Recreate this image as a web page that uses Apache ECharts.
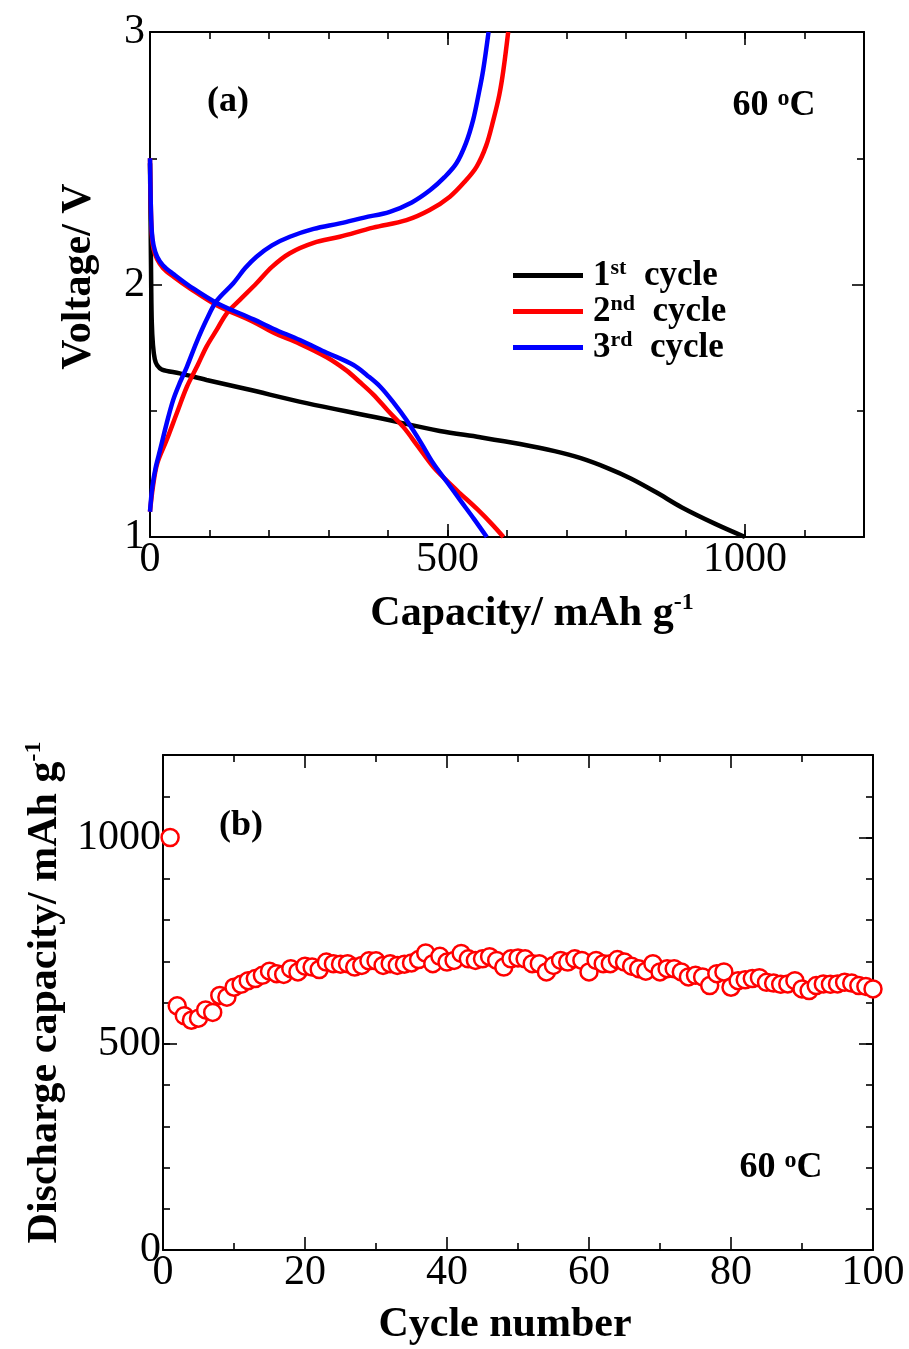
<!DOCTYPE html>
<html>
<head>
<meta charset="utf-8">
<script src="https://cdn.jsdelivr.net/npm/echarts@6/dist/echarts.min.js"></script>
<style>
  html, body { margin: 0; padding: 0; background: #fff; }
  #chart { width: 909px; height: 1349px; }
</style>
</head>
<body>
<div id="chart"></div>
<script>
const FONT = '"Liberation Serif", "Times New Roman", "DejaVu Serif", serif';

// (a) Charge/discharge profiles at 60 °C: [capacity mAh/g, voltage V]
const cycle1Discharge = [[0,2.48],[1,2.25],[2,2.0],[3,1.85],[5,1.76],[8,1.705],[12,1.68],[20,1.663],[50,1.648],[95,1.622],[162,1.586],[263,1.53],[375,1.476],[487,1.42],[555,1.395],[622,1.368],[680,1.34],[724,1.312],[770,1.272],[808,1.232],[850,1.178],[894,1.117],[950,1.052],[1000,1.0]];
const cycle2Discharge = [[0,2.5],[1,2.35],[3,2.2],[6,2.14],[12,2.1],[22,2.065],[40,2.03],[67,1.985],[112,1.918],[174,1.852],[207,1.81],[252,1.765],[297,1.712],[330,1.66],[352,1.615],[375,1.565],[400,1.5],[426,1.435],[450,1.36],[476,1.278],[500,1.22],[521,1.173],[550,1.11],[575,1.05],[594,1.0]];
const cycle2Charge = [[0,1.1],[5,1.2],[12,1.29],[28,1.384],[45,1.49],[62,1.595],[80,1.68],[95,1.754],[112,1.82],[129,1.886],[151,1.939],[179,2.005],[205,2.07],[235,2.124],[275,2.165],[319,2.189],[375,2.225],[431,2.255],[470,2.295],[504,2.348],[530,2.41],[549,2.467],[565,2.55],[577,2.651],[587,2.75],[594,2.85],[602,3.0]];
const cycle3Discharge = [[0,2.5],[1,2.35],[3,2.21],[6,2.155],[12,2.11],[22,2.075],[40,2.04],[67,1.993],[112,1.927],[174,1.862],[207,1.825],[252,1.78],[297,1.73],[342,1.681],[365,1.64],[387,1.595],[410,1.53],[431,1.463],[455,1.375],[476,1.292],[500,1.215],[521,1.147],[545,1.07],[566,1.0]];
const cycle3Charge = [[0,1.1],[4,1.2],[10,1.28],[17,1.345],[28,1.45],[39,1.543],[50,1.61],[62,1.674],[78,1.77],[95,1.86],[112,1.935],[140,2.005],[160,2.065],[179,2.11],[205,2.155],[235,2.189],[275,2.22],[319,2.242],[360,2.265],[403,2.288],[440,2.325],[471,2.374],[495,2.425],[515,2.48],[531,2.56],[543,2.651],[552,2.75],[560,2.85],[569,3.0]];

const cycleNames = ['1st', '2nd', '3rd'];
const cycleSuffix = { '1st': ['1', 'st'], '2nd': ['2', 'nd'], '3rd': ['3', 'rd'] };

// (b) Discharge capacity (mAh/g) for cycles 1..100
const dischargeCapacity = [
  1000, 592, 568, 557, 562, 582, 576, 617, 613, 637,
  644, 653, 658, 666, 676, 670, 668, 682, 674, 688,
  686, 680, 698, 694, 693, 694, 686, 690, 701, 701,
  690, 694, 690, 693, 696, 704, 720, 694, 712, 698,
  702, 719, 706, 702, 706, 711, 702, 686, 706, 708,
  706, 694, 694, 674, 690, 702, 698, 706, 702, 674,
  702, 694, 694, 704, 698, 688, 682, 676, 694, 674,
  682, 682, 674, 662, 666, 662, 641, 670, 674, 637,
  653, 655, 658, 660, 649, 647, 644, 645, 653, 633,
  629, 641, 645, 644, 645, 649, 647, 641, 639, 633
];
const cyclePoints = dischargeCapacity.map((v, i) => [i + 1, v]);

const black = '#000000', red = '#ff0000', blue = '#0000ff';

const frameLine = { show: true, onZero: false, lineStyle: { color: '#000', width: 2 } };
const noLine = { show: false, onZero: false };
const tick = (len) => ({ show: true, inside: true, length: len, lineStyle: { color: '#000', width: 1.6 } });
const minor = (len, n) => ({ show: true, splitNumber: n, length: len, lineStyle: { color: '#000', width: 1.6 } });
const noLabel = { show: false };
const tickLabel = (margin, hideMax) => ({
  show: true, margin: margin, color: '#000', fontFamily: FONT, fontSize: 42,
  showMinLabel: true, showMaxLabel: true, hideOverlap: false,
  formatter: (v) => (v === hideMax ? '' : String(v))
});
const noSplit = { show: false };

const supRich = {
  t: { fontFamily: FONT, fontWeight: 'bold', fontSize: 42, lineHeight: 46, color: '#000' },
  s: { fontFamily: FONT, fontWeight: 'bold', fontSize: 24, lineHeight: 14, verticalAlign: 'top', color: '#000' }
};
const degreeRich = {
  n: { fontFamily: FONT, fontWeight: 'bold', fontSize: 36, lineHeight: 38, fill: '#000' },
  s: { fontFamily: FONT, fontWeight: 'bold', fontSize: 24, lineHeight: 14, verticalAlign: 'top', fill: '#000' }
};

function valueAxis(o) {
  return Object.assign({ type: 'value', splitLine: noSplit, nameMoveOverlap: false }, o);
}

const lineSeries = (name, data, color) => ({
  type: 'line', name: name, data: data, xAxisIndex: 0, yAxisIndex: 0,
  showSymbol: false, symbol: 'none', smooth: 0.35,
  color: color, lineStyle: { color: color, width: 4.5 }, itemStyle: { color: color },
  emphasis: { disabled: true }, clip: true
});

const option = {
  animation: false,
  backgroundColor: '#fff',
  grid: [
    { left: 150, top: 32, width: 714, height: 505, outerBoundsMode: 'none', containLabel: false },
    { left: 163, top: 755, width: 710, height: 495, outerBoundsMode: 'none', containLabel: false }
  ],
  xAxis: [
    // (a) bottom: minor every 100, long ticks + labels every 500
    valueAxis({ gridIndex: 0, position: 'bottom', min: 0, max: 1200, interval: 100,
      axisLine: frameLine, axisTick: tick(7), axisLabel: noLabel,
      name: '{t|Capacity/ mAh g}{s|-1}', nameLocation: 'middle', nameGap: 54,
      nameTextStyle: { fontFamily: FONT, fontWeight: 'bold', fontSize: 42, color: '#000', padding: [0, 0, 0, 50], rich: supRich } }),
    valueAxis({ gridIndex: 0, position: 'bottom', min: 0, max: 1200, interval: 500,
      axisLine: noLine, axisTick: tick(13), axisLabel: tickLabel(2, 1200) }),
    // (a) top mirror
    valueAxis({ gridIndex: 0, position: 'top', min: 0, max: 1200, interval: 100,
      axisLine: frameLine, axisTick: tick(7), axisLabel: noLabel }),
    valueAxis({ gridIndex: 0, position: 'top', min: 0, max: 1200, interval: 500,
      axisLine: noLine, axisTick: tick(13), axisLabel: noLabel }),
    // (b) bottom
    valueAxis({ gridIndex: 1, position: 'bottom', min: 0, max: 100, interval: 20,
      axisLine: frameLine, axisTick: tick(13), minorTick: minor(7, 2),
      axisLabel: tickLabel(2, null),
      name: 'Cycle number', nameLocation: 'middle', nameGap: 52,
      nameTextStyle: { fontFamily: FONT, fontWeight: 'bold', fontSize: 42, color: '#000', lineHeight: 46, padding: [0, 26, 0, 0] } }),
    // (b) top mirror
    valueAxis({ gridIndex: 1, position: 'top', min: 0, max: 100, interval: 20,
      axisLine: frameLine, axisTick: tick(13), minorTick: minor(7, 2), axisLabel: noLabel })
  ],
  yAxis: [
    // (a) left
    valueAxis({ gridIndex: 0, position: 'left', min: 1, max: 3, interval: 1,
      axisLine: frameLine, axisTick: tick(12), minorTick: minor(7, 2),
      axisLabel: tickLabel(5, null),
      name: 'Voltage/ V', nameLocation: 'middle', nameGap: 48, nameRotate: 90,
      nameTextStyle: { fontFamily: FONT, fontWeight: 'bold', fontSize: 42, color: '#000', lineHeight: 46, padding: [0, 0, 0, 16] } }),
    // (a) right
    valueAxis({ gridIndex: 0, position: 'right', min: 1, max: 3, interval: 1,
      axisLine: frameLine, axisTick: tick(12), minorTick: minor(7, 2), axisLabel: noLabel }),
    // (b) left: minor every 100
    valueAxis({ gridIndex: 1, position: 'left', min: 0, max: 1200, interval: 100,
      axisLine: frameLine, axisTick: tick(7), axisLabel: noLabel,
      name: '{t|Discharge capacity/ mAh g}{s|-1}', nameLocation: 'middle', nameGap: 95, nameRotate: 90,
      nameTextStyle: { fontFamily: FONT, fontWeight: 'bold', fontSize: 42, color: '#000', padding: [0, 0, 0, 20], rich: supRich } }),
    // (b) left: long ticks + labels every 500
    valueAxis({ gridIndex: 1, position: 'left', min: 0, max: 1200, interval: 500,
      axisLine: noLine, axisTick: tick(14), axisLabel: tickLabel(2, 1200) }),
    // (b) right mirror
    valueAxis({ gridIndex: 1, position: 'right', min: 0, max: 1200, interval: 100,
      axisLine: frameLine, axisTick: tick(7), axisLabel: noLabel }),
    valueAxis({ gridIndex: 1, position: 'right', min: 0, max: 1200, interval: 500,
      axisLine: noLine, axisTick: tick(14), axisLabel: noLabel })
  ],
  legend: {
    data: cycleNames,
    orient: 'vertical',
    left: 508, top: 252,
    itemWidth: 70, itemHeight: 5, itemGap: 0,
    icon: 'rect',
    selectedMode: false,
    formatter: (name) => '{n|' + cycleSuffix[name][0] + '}{s|' + cycleSuffix[name][1] + '}{n|  cycle}',
    textStyle: {
      color: '#000', fontFamily: FONT, fontWeight: 'bold', fontSize: 35, padding: [0, 0, 0, 5],
      rich: {
        n: { fontFamily: FONT, fontWeight: 'bold', fontSize: 35, lineHeight: 37, color: '#000' },
        s: { fontFamily: FONT, fontWeight: 'bold', fontSize: 22, lineHeight: 8, verticalAlign: 'top', color: '#000' }
      }
    }
  },
  graphic: [
    { type: 'text', x: 228, y: 102, silent: true,
      style: { text: '(a)', fontFamily: FONT, fontWeight: 'bold', fontSize: 36, fill: '#000', align: 'center', verticalAlign: 'middle' } },
    { type: 'text', x: 774, y: 106, silent: true,
      style: { text: '{n|60 }{s|o}{n|C}', align: 'center', verticalAlign: 'middle', rich: degreeRich } },
    { type: 'text', x: 241, y: 826, silent: true,
      style: { text: '(b)', fontFamily: FONT, fontWeight: 'bold', fontSize: 36, fill: '#000', align: 'center', verticalAlign: 'middle' } },
    { type: 'text', x: 781, y: 1168, silent: true,
      style: { text: '{n|60 }{s|o}{n|C}', align: 'center', verticalAlign: 'middle', rich: degreeRich } }
  ],
  series: [
    lineSeries('1st', cycle1Discharge, black),
    lineSeries('2nd', cycle2Discharge, red),
    lineSeries('2nd', cycle2Charge, red),
    lineSeries('3rd', cycle3Discharge, blue),
    lineSeries('3rd', cycle3Charge, blue),
    {
      type: 'scatter', name: 'Discharge capacity', data: cyclePoints,
      xAxisIndex: 4, yAxisIndex: 2,
      symbol: 'circle', symbolSize: 17,
      itemStyle: { color: '#ffffff', borderColor: red, borderWidth: 2.5, opacity: 1 },
      emphasis: { disabled: true }, clip: false
    }
  ]
};

const chart = echarts.init(document.getElementById('chart'), null, { renderer: 'canvas', width: 909, height: 1349 });
chart.setOption(option);
</script>
</body>
</html>
